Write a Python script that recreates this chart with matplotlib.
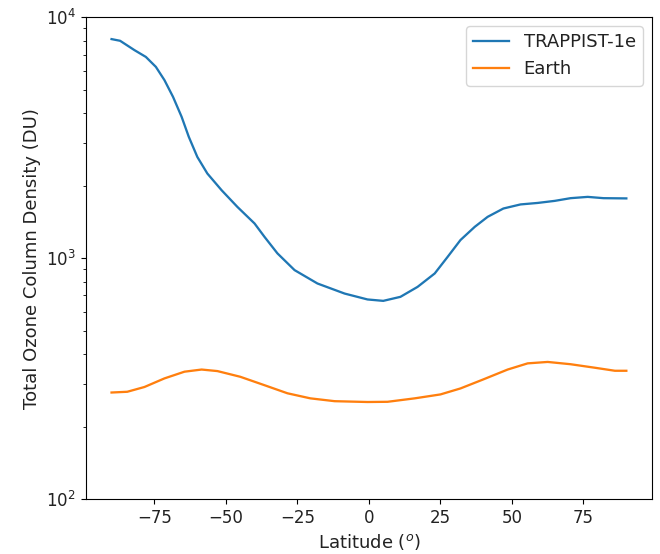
import matplotlib
matplotlib.use("Agg")
import matplotlib.pyplot as plt

# TRAPPIST-1e total ozone column (DU) vs latitude
trap_lat = [-90, -87, -82, -78, -74.5, -71.5, -68.5, -65.5, -63, -60, -56.5, -51.5,
            -46, -40, -36.5, -32, -26, -18, -8.5, -0.5, 5, 11, 17, 23, 27.5, 32,
            37, 41.5, 47, 53, 59, 65, 70.5, 76.5, 82, 90]
trap_du = [8110, 7980, 7300, 6840, 6220, 5480, 4670, 3860, 3190, 2630, 2245, 1913,
           1632, 1393, 1225, 1047, 892, 785, 713, 674, 665, 691, 760, 864, 1012, 1189,
           1349, 1484, 1607, 1671, 1695, 1729, 1774, 1796, 1774, 1770]

# Earth
earth_lat = [-90, -84.5, -78.5, -71.5, -64.5, -58.5, -53, -45, -36.5, -28.5, -20.5,
             -12, -0.5, 6.5, 16, 25, 32, 40, 48.5, 55.5, 62.5, 70.5, 79, 86, 90]
earth_du = [277, 279, 292, 317, 338, 345, 340, 322, 297, 275, 262,
            255, 253, 253.5, 262, 272, 288, 314, 345, 366, 371, 363, 351, 341, 341]

plt.rcParams['font.size'] = 12
plt.rcParams['text.color'] = '#222222'
plt.rcParams['axes.labelcolor'] = '#222222'
plt.rcParams['xtick.labelcolor'] = '#222222'
plt.rcParams['ytick.labelcolor'] = '#222222'

fig = plt.figure(figsize=(6.6, 5.54), dpi=100)
ax = fig.add_axes([0.130, 0.099, 0.858, 0.870])

ax.plot(trap_lat, trap_du, color='tab:blue', linewidth=1.65, label='TRAPPIST-1e')
ax.plot(earth_lat, earth_du, color='tab:orange', linewidth=1.65, label='Earth')

ax.set_yscale('log')
ax.set_ylim(1e2, 1e4)
ax.set_xticks([-75, -50, -25, 0, 25, 50, 75])
ax.set_xlabel('Latitude ($^o$)', fontsize=13)
ax.set_ylabel('Total Ozone Column Density (DU)', fontsize=13)
ax.legend(loc='upper right', fontsize=13)

fig.savefig('out.png', dpi=100)
